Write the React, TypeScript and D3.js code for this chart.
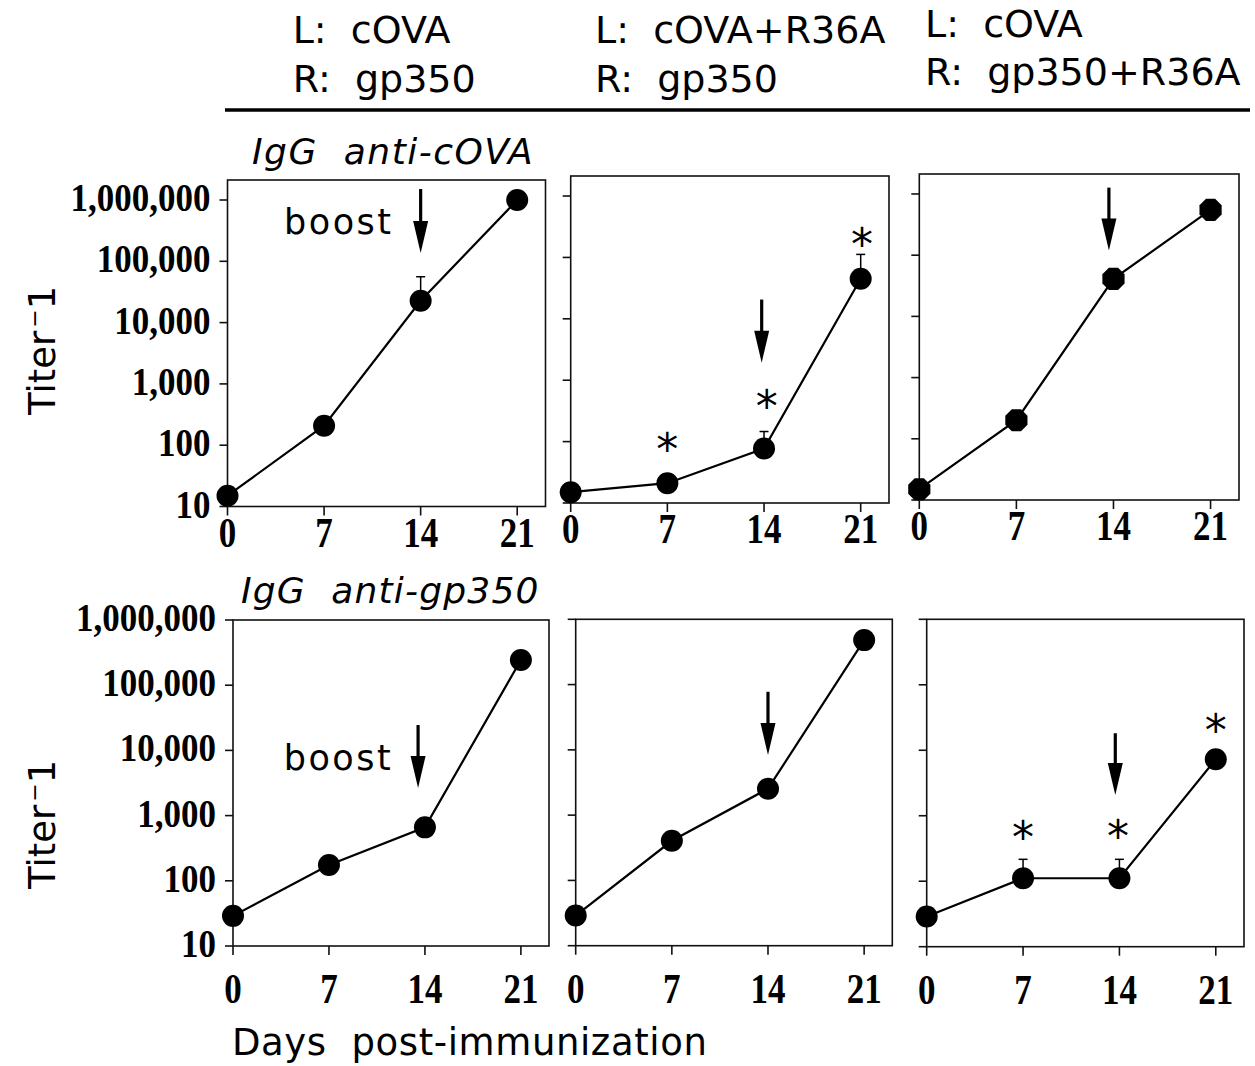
import * as d3 from "d3";

// x axis
const days = [0, 7, 14, 21];
const dayLabels = ["0", "7", "14", "21"];

// y axis (log)
const yTicks = [10, 100, 1000, 10000, 100000, 1000000];
const yTickLabels = ["10", "100", "1,000", "10,000", "100,000", "1,000,000"];

// column headers
const headerLeft = ["L:\u00a0 cOVA", "L:\u00a0 cOVA+R36A", "L:\u00a0 cOVA"];
const headerRight = ["R:\u00a0 gp350", "R:\u00a0 gp350", "R:\u00a0 gp350+R36A"];
const rowTitles = ["IgG\u00a0 anti-cOVA", "IgG\u00a0 anti-gp350"];

// IgG anti-cOVA titers, per column
const covaCtrl = [15, 208, 22700, 1000000];
const covaOvaR36a = [15, 21, 77, 44900];
const covaGpR36a = [15, 201, 41100, 548000];

// IgG anti-gp350 titers, per column
const gpCtrl = [29, 175, 660, 244000];
const gpOvaR36a = [29, 405, 2540, 480000];
const gpGpR36a = [29, 111, 111, 7280];

// upper error bars (null = none)
const covaCtrlErr = [null, null, 56000, null];
const covaOvaR36aErr = [null, null, 146, 112000];
const gpGpR36aErr = [null, 216, 216, null];

// significance asterisks: [day, titer]
const covaOvaR36aStars: [number, number][] = [[7, 107], [14.2, 531], [21.1, 228000]];
const gpGpR36aStars: [number, number][] = [[7, 643], [13.9, 681], [21, 28300]];

// boost arrows: [day, tail titer, tip titer]
const covaArrows: [number, number, number][] = [[14, 1510000, 136000], [13.83, 20600, 1930], [13.67, 1270000, 119000]];
const gpArrows: [number, number, number][] = [[13.5, 24500, 2650], [14, 77600, 8320], [13.7, 18200, 2070]];

// "boost" label anchors: [day, titer]
const covaBoost: [number, number] = [4.1, 279000];
const gpBoost: [number, number] = [3.7, 5000];

const SERIF = "'Liberation Serif', 'Times New Roman', serif";
const SANS = "'DejaVu Sans', Verdana, sans-serif";

type Frame = { x: number; y: number; w: number; h: number };

const topFrames: Frame[] = [
  { x: 227.5, y: 180, w: 318, h: 326.5 },
  { x: 570.7, y: 176, w: 318.3, h: 327 },
  { x: 919.3, y: 174, w: 319.7, h: 326 },
];
const bottomFrames: Frame[] = [
  { x: 233, y: 620, w: 316, h: 326 },
  { x: 575.7, y: 619.3, w: 316.6, h: 326.4 },
  { x: 926.7, y: 619.3, w: 317.3, h: 327.4 },
];

function Panel({ frame, values, err, stars, arrow, yMax, showY, labelGap, boost, octagon }: any) {
  const xs = d3.scaleLinear().domain([0, 23.05]).range([0, frame.w]);
  const ys = d3.scaleLog().domain([10, yMax]).range([frame.h, 0]);
  const line = d3.line<number>().x((_, i) => xs(days[i])).y((v) => ys(v));
  const oct = d3.line()(d3.range(8).map((i) => {
    const a = (i * Math.PI) / 4 + Math.PI / 8;
    return [Math.cos(a) * 12, Math.sin(a) * 12] as [number, number];
  })) + "Z";
  const [aDay, aTail, aTip] = arrow;
  const ax = xs(aDay);
  const headLen = 32;
  return (
    <g transform={`translate(${frame.x},${frame.y})`}>
      <rect x={0} y={0} width={frame.w} height={frame.h} fill="none" stroke="#111" strokeWidth={1.6} />
      {yTicks.map((t) => (
        <line key={t} x1={-8} x2={0} y1={ys(t)} y2={ys(t)} stroke="#111" strokeWidth={1.6} />
      ))}
      {days.map((d) => (
        <line key={d} x1={xs(d)} x2={xs(d)} y1={frame.h} y2={frame.h + 9} stroke="#111" strokeWidth={1.6} />
      ))}
      {showY &&
        yTicks.map((t, i) => (
          <text key={t} transform={`translate(-17,${ys(t) + 11}) scale(1,1.12)`} textAnchor="end"
            fontFamily={SERIF} fontWeight="bold" fontSize={35} fill="#000">
            {yTickLabels[i]}
          </text>
        ))}
      {days.map((d, i) => (
        <text key={d} transform={`translate(${xs(d)},${frame.h + labelGap}) scale(1,1.2)`} textAnchor="middle"
          fontFamily={SERIF} fontWeight="bold" fontSize={35} fill="#000">
          {dayLabels[i]}
        </text>
      ))}
      <path d={line(values) || ""} fill="none" stroke="#000" strokeWidth={2.2} />
      {err &&
        err.map((e: number | null, i: number) =>
          e == null ? null : (
            <g key={i}>
              <line x1={xs(days[i])} x2={xs(days[i])} y1={ys(values[i])} y2={ys(e)} stroke="#000" strokeWidth={1.5} />
              <line x1={xs(days[i]) - 4.5} x2={xs(days[i]) + 4.5} y1={ys(e)} y2={ys(e)} stroke="#000" strokeWidth={1.5} />
            </g>
          )
        )}
      {values.map((v: number, i: number) =>
        octagon ? (
          <path key={i} d={oct} transform={`translate(${xs(days[i])},${ys(v)})`} fill="#000" />
        ) : (
          <circle key={i} cx={xs(days[i])} cy={ys(v)} r={11} fill="#000" />
        )
      )}
      {stars &&
        stars.map(([d, v]: [number, number], i: number) => (
          <text key={i} x={xs(d)} y={ys(v) + 25} textAnchor="middle" fontFamily={SANS} fontSize={44} fill="#000">
            *
          </text>
        ))}
      <line x1={ax} x2={ax} y1={ys(aTail)} y2={ys(aTip) - headLen + 2} stroke="#000" strokeWidth={3.2} />
      <path d={`M${ax - 7.5},${ys(aTip) - headLen}L${ax + 7.5},${ys(aTip) - headLen}L${ax},${ys(aTip)}Z`} fill="#000" />
      {boost && (
        <text x={xs(boost[0])} y={ys(boost[1])} fontFamily={SANS} fontSize={35} letterSpacing={2.5} fill="#000">
          boost
        </text>
      )}
    </g>
  );
}

export default function App() {
  const topYMax = 2.12e6;
  const headerX = [292.7, 595, 925];
  const headerBase = [[43.3, 91.7], [43.3, 91.7], [36.7, 85]];
  return (
    <div style={{ position: "absolute", left: 0, top: 0 }}>
      <svg width={1255} height={1066} viewBox="0 0 1255 1066" style={{ display: "block", background: "#fff" }}>
        {headerLeft.map((t, i) => (
          <g key={i} fontFamily={SANS} fontSize={38} fill="#000">
            <text x={headerX[i]} y={headerBase[i][0]}>{t}</text>
            <text x={headerX[i]} y={headerBase[i][1]}>{headerRight[i]}</text>
          </g>
        ))}
        <line x1={225} x2={1250} y1={110} y2={110} stroke="#000" strokeWidth={3.5} />

        <text x={252} y={164} fontFamily={SANS} fontStyle="italic" fontSize={36} letterSpacing={1.5} fill="#000">
          {rowTitles[0]}
        </text>
        <text x={241} y={603} fontFamily={SANS} fontStyle="italic" fontSize={36} letterSpacing={1.2} fill="#000">
          {rowTitles[1]}
        </text>

        {[415, 889].map((y, i) => (
          <text key={i} transform={`translate(55,${y}) rotate(-90)`} fontFamily={SANS} fontSize={37} fill="#000">
            Titer
            <tspan fontSize={22} dx={3} dy={-13}>{"\u2212"}</tspan>
            <tspan dy={13}>1</tspan>
          </text>
        ))}

        <Panel frame={topFrames[0]} values={covaCtrl} err={covaCtrlErr} arrow={covaArrows[0]} yMax={topYMax} showY labelGap={40} boost={covaBoost} />
        <Panel frame={topFrames[1]} values={covaOvaR36a} err={covaOvaR36aErr} stars={covaOvaR36aStars} arrow={covaArrows[1]} yMax={topYMax} labelGap={40} />
        <Panel frame={topFrames[2]} values={covaGpR36a} arrow={covaArrows[2]} yMax={topYMax} labelGap={40} octagon />

        <Panel frame={bottomFrames[0]} values={gpCtrl} arrow={gpArrows[0]} yMax={1e6} showY labelGap={57} boost={gpBoost} />
        <Panel frame={bottomFrames[1]} values={gpOvaR36a} arrow={gpArrows[1]} yMax={1e6} labelGap={57} />
        <Panel frame={bottomFrames[2]} values={gpGpR36a} err={gpGpR36aErr} stars={gpGpR36aStars} arrow={gpArrows[2]} yMax={1e6} labelGap={57} />

        <text x={232} y={1055} fontFamily={SANS} fontSize={37} letterSpacing={0.6} fill="#000">
          {"Days\u00a0 post-immunization"}
        </text>
      </svg>
    </div>
  );
}
